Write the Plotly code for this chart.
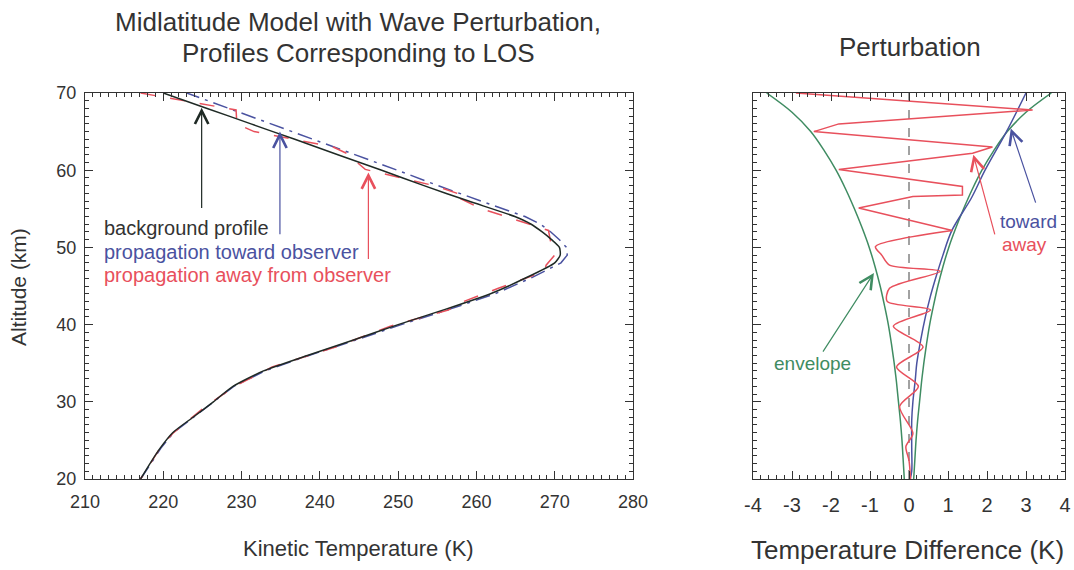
import plotly.graph_objects as go

# ---------------- data ----------------
# Left panel: background profile (altitude km, temperature K)
bg_alt = [20, 22, 24, 26, 28, 30, 32, 34, 36, 38, 40, 42, 44, 46, 48, 49, 50, 51, 52, 53, 54, 56, 58, 60, 62, 64, 66, 68, 70]
bg_T = [217.1, 218.3, 219.6, 221.2, 223.8, 226.4, 228.9, 232.8, 238.4, 244.3, 250.0, 256.1, 261.8, 266.2, 270.0, 270.7,
        270.6, 269.6, 268.4, 267.0, 264.9, 259.0, 253.3, 247.9, 242.3, 236.8, 231.2, 225.6, 220.0]
# propagation toward observer (same altitude grid)
toward_T = [217.1, 218.4, 219.7, 221.3, 223.9, 226.5, 229.0, 233.0, 238.6, 244.6, 250.4, 256.6, 262.4, 266.9, 270.8, 271.6,
            271.5, 270.6, 269.5, 268.2, 266.2, 260.6, 255.1, 249.9, 244.5, 239.2, 233.8, 228.4, 223.0]
# propagation away from observer
away_alt = [70.0, 67.8, 66.0, 65.0, 63.0, 62.2, 60.1, 57.9, 56.8, 56.6, 55.1, 52.2, 50.1, 49.0, 47.7, 46.9, 44.7, 43.0,
            41.9, 39.8, 37.1, 34.5, 32.0, 29.4, 25.9, 24.2, 22.4, 20.0]
away_T = [217.1, 229.3, 229.4, 231.6, 241.7, 243.4, 245.8, 255.0, 258.1, 257.4, 260.4, 269.2, 269.6, 270.0, 268.9, 268.7,
          262.8, 258.4, 256.4, 249.0, 242.0, 233.9, 229.1, 225.4, 221.2, 219.7, 218.6, 217.1]

# Right panel: temperature differences (K)
away_dT = [-2.9, 3.17, -1.8, -2.44, 2.14, 1.63, -1.8, 1.37, 1.37, 0.1, -1.29, 1.11, -0.86, -0.7, -0.5, 0.8, -0.5, -0.56,
           0.55, -0.4, 0.36, -0.32, 0.24, -0.24, 0.1, -0.08, 0.0, 0.04]
toward_alt = [20, 21, 24, 27.6, 30, 32.8, 35, 38, 41, 43.5, 45.8, 49, 52.2, 56.4, 60, 65, 70]
toward_dT = [0.03, 0.07, 0.07, 0.07, 0.1, 0.16, 0.2, 0.3, 0.42, 0.54, 0.67, 0.87, 1.1, 1.6, 1.95, 2.5, 3.0]
env_alt = [20, 22.5, 25, 27.5, 30, 32.5, 35, 37.5, 40, 42.5, 45, 47.5, 50, 52.5, 55, 57.5, 60, 62.5, 65, 67.5, 70]
env_dT = [0.12, 0.15, 0.18, 0.22, 0.27, 0.32, 0.38, 0.45, 0.53, 0.63, 0.74, 0.87, 1.02, 1.2, 1.4, 1.62, 1.87, 2.17,
          2.52, 3.0, 3.65]
env_neg = [-v for v in env_dT]

x_ticks_left = [210, 220, 230, 240, 250, 260, 270, 280]
y_ticks = [20, 30, 40, 50, 60, 70]
x_ticks_right = [-4, -3, -2, -1, 0, 1, 2, 3, 4]
x_ticktext_right = ["-4", "-3", "-2", "-1", "0", "1", "2", "3", "4"]

# ---------------- style ----------------
FONT = "Arial, Liberation Sans, sans-serif"
TXT = "#333333"
BLACK = "#1f2a25"
BLUE = "#4a52a0"
RED = "#e8505c"
GREEN = "#3f8c62"
W, H = 1074, 570
SPLIT = 11  # upper part of the "away" difference is drawn with sharp corners, lower part smooth

fig = go.Figure()

fig.add_trace(go.Scatter(x=toward_T, y=bg_alt, mode="lines", line=dict(color=BLUE, width=1.5, dash="longdashdot"),
                         xaxis="x", yaxis="y", showlegend=False))
fig.add_trace(go.Scatter(x=away_T, y=away_alt, mode="lines", line=dict(color=RED, width=1.5, dash="longdash"),
                         xaxis="x", yaxis="y", showlegend=False))
fig.add_trace(go.Scatter(x=bg_T, y=bg_alt, mode="lines", line=dict(color=BLACK, width=1.5, shape="spline", smoothing=0.6),
                         xaxis="x", yaxis="y", showlegend=False))

# right panel
fig.add_trace(go.Scatter(x=[0, 0], y=[20, 70], mode="lines", line=dict(color="#444444", width=1, dash="dash"),
                         xaxis="x2", yaxis="y2", showlegend=False))
fig.add_trace(go.Scatter(x=env_dT, y=env_alt, mode="lines", line=dict(color=GREEN, width=1.5, shape="spline"),
                         xaxis="x2", yaxis="y2", showlegend=False))
fig.add_trace(go.Scatter(x=env_neg, y=env_alt, mode="lines", line=dict(color=GREEN, width=1.5, shape="spline"),
                         xaxis="x2", yaxis="y2", showlegend=False))
fig.add_trace(go.Scatter(x=toward_dT, y=toward_alt, mode="lines", line=dict(color=BLUE, width=1.5, shape="spline"),
                         xaxis="x2", yaxis="y2", showlegend=False))
fig.add_trace(go.Scatter(x=away_dT[:SPLIT + 1], y=away_alt[:SPLIT + 1], mode="lines", line=dict(color=RED, width=1.5),
                         xaxis="x2", yaxis="y2", showlegend=False))
fig.add_trace(go.Scatter(x=away_dT[SPLIT:], y=away_alt[SPLIT:], mode="lines",
                         line=dict(color=RED, width=1.5, shape="spline", smoothing=0.8),
                         xaxis="x2", yaxis="y2", showlegend=False))

ax_common = dict(showline=True, linecolor="#333333", linewidth=1, mirror="allticks", ticks="inside",
                 ticklen=8, tickwidth=1, tickcolor="#333333", showgrid=False, zeroline=False,
                 automargin=False, tickfont=dict(family=FONT, size=18, color=TXT))

fig.update_layout(
    width=W, height=H, autosize=False,
    margin=dict(l=0, r=0, t=0, b=0, pad=0, autoexpand=False),
    paper_bgcolor="white", plot_bgcolor="white",
    xaxis=dict(domain=[85 / W, 633 / W], range=[210, 280], tickvals=x_ticks_left, anchor="y",
               minor=dict(dtick=1, ticklen=4, ticks="inside", tickcolor="#333333"),
               ticklabelstandoff=6, **ax_common),
    yaxis=dict(domain=[1 - 479 / H, 1 - 93 / H], range=[20, 70], tickvals=y_ticks, anchor="x",
               minor=dict(dtick=1, ticklen=4, ticks="inside", tickcolor="#333333"),
               ticklabelstandoff=4, **ax_common),
    xaxis2=dict(domain=[753 / W, 1065 / W], range=[-4, 4], tickvals=x_ticks_right, ticktext=x_ticktext_right,
                anchor="y2", minor=dict(dtick=0.2, ticklen=4, ticks="inside", tickcolor="#333333"),
                ticklabelstandoff=8, **{**ax_common, "tickfont": dict(family=FONT, size=20, color=TXT)}),
    yaxis2=dict(domain=[1 - 479 / H, 1 - 93 / H], range=[20, 70], tickvals=y_ticks, anchor="x2",
                showticklabels=False,
                minor=dict(dtick=1, ticklen=4, ticks="inside", tickcolor="#333333"), **ax_common),
)

def ptext(text, x, y, size, color=TXT, xanchor="center", angle=0):
    fig.add_annotation(text=text, x=x / W, y=1 - y / H, xref="paper", yref="paper", showarrow=False,
                       xanchor=xanchor, yanchor="middle", textangle=angle,
                       font=dict(family=FONT, size=size, color=color))

ptext("Midlatitude Model with Wave Perturbation,", 358, 22, 26)
ptext("Profiles Corresponding to LOS", 358, 53, 26)
ptext("Perturbation", 910, 47, 26)
ptext("Kinetic Temperature (K)", 358, 548, 22)
ptext("Temperature Difference (K)", 907, 550, 26)
ptext("Altitude (km)", 18, 287, 21, angle=-90)

# left panel labels
ptext("background profile", 102, 228, 20, color="#333333", xanchor="left")
ptext("propagation toward observer", 102, 252, 20, color=BLUE, xanchor="left")
ptext("propagation away from observer", 102, 275, 20, color=RED, xanchor="left")
# right panel labels
ptext("toward", 1028, 221, 19, color=BLUE)
ptext("away", 1024, 244, 19, color=RED)
ptext("envelope", 812, 363, 19, color=GREEN)

def arrow(xr, yr, x_head, y_head, x_tail, y_tail, color):
    fig.add_annotation(text="", x=x_head, y=y_head, ax=x_tail, ay=y_tail, xref=xr, yref=yr,
                       axref=xr, ayref=yr, showarrow=True, arrowhead=5, arrowsize=2.2, arrowwidth=1.2,
                       arrowcolor=color, standoff=0, startstandoff=0)

arrow("x", "y", 224.9, 68.1, 224.9, 54.9, BLACK)
arrow("x", "y", 234.9, 65.0, 234.9, 51.5, BLUE)
arrow("x", "y", 246.2, 59.7, 246.2, 48.3, RED)
arrow("x2", "y2", 2.61, 65.4, 3.26, 55.6, BLUE)
arrow("x2", "y2", 1.65, 62.0, 2.21, 51.5, RED)
arrow("x2", "y2", -0.9, 46.7, -2.23, 36.3, GREEN)

fig.write_html("out.html")
